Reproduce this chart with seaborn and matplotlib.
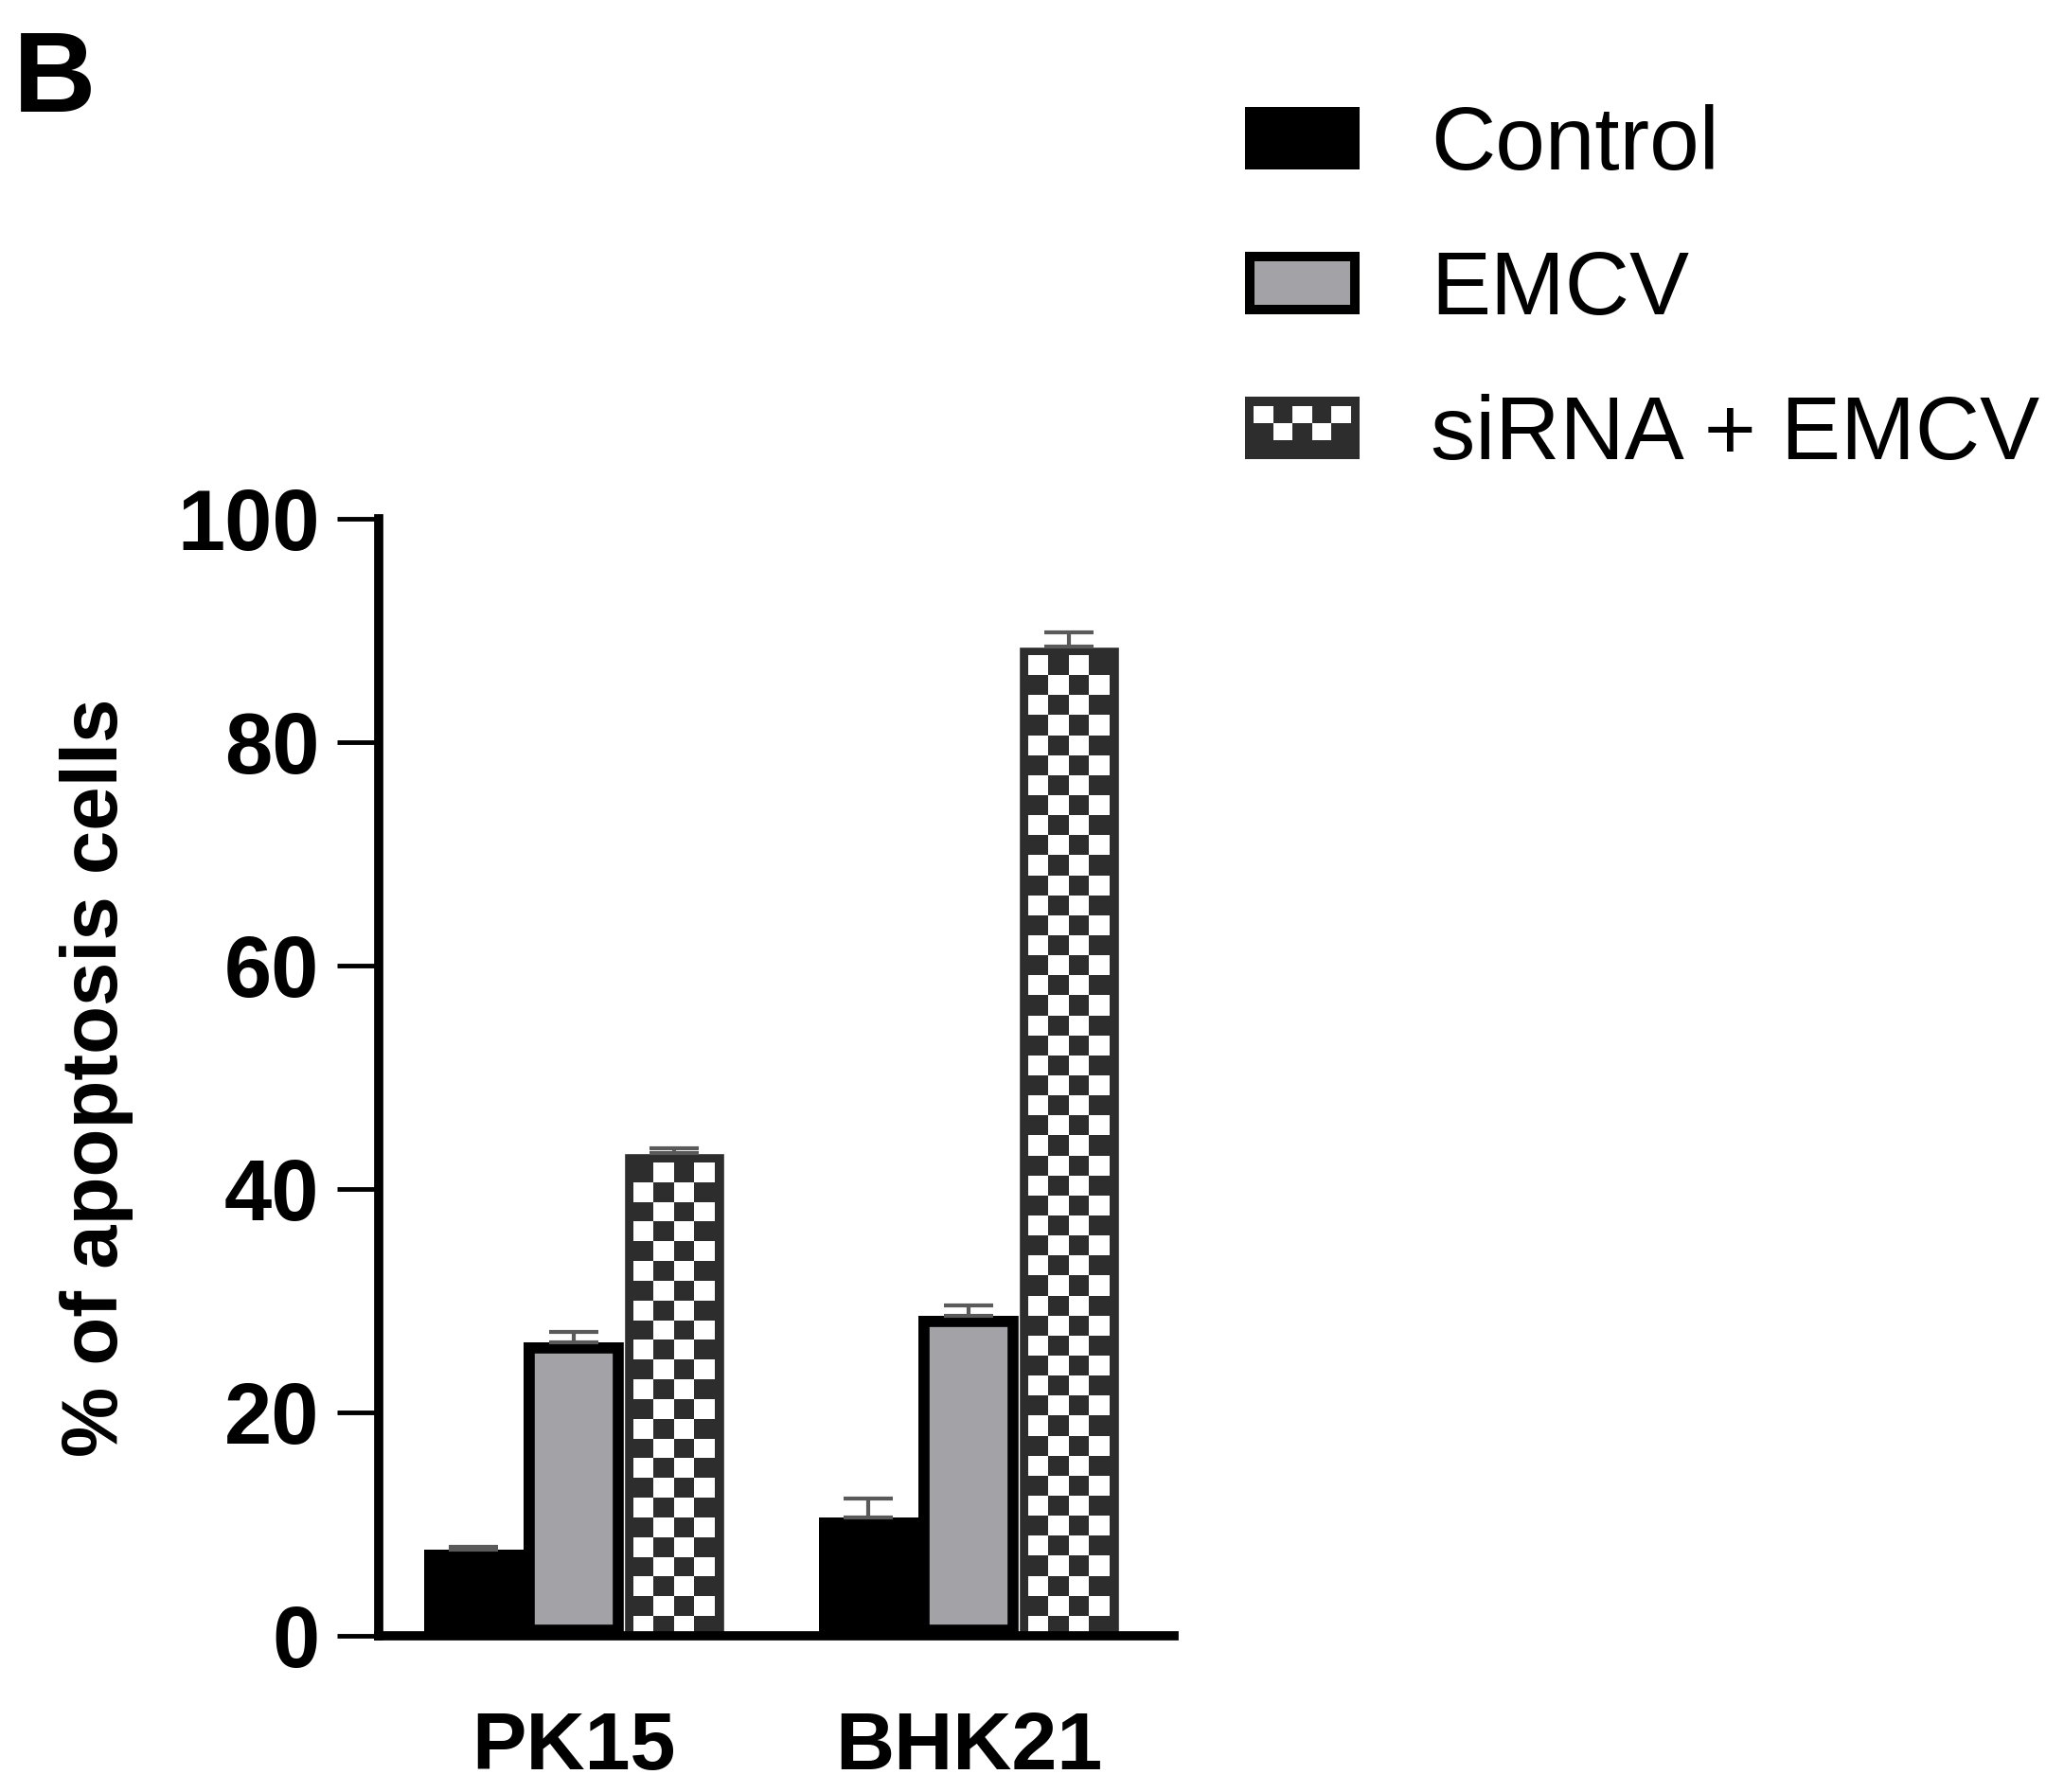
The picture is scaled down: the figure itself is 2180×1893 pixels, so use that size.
#!/usr/bin/env python3
# -*- coding: utf-8 -*-
"""
Apoptosis bar chart (panel B): Control / EMCV / siRNA + EMCV in PK15 and BHK21
"""
import numpy as np
import pandas as pd
import seaborn as sns
import matplotlib.pyplot as plt
from matplotlib.colors import ListedColormap
from matplotlib.patches import Rectangle, Patch
from matplotlib.legend_handler import HandlerBase

# ========== data ==========
cells = ['PK15', 'BHK21']
groups = ['Control', 'EMCV', 'siRNA + EMCV']
control_mean = [7.7, 10.6]
emcv_mean = [26.3, 28.6]
sirna_mean = [43.2, 88.6]
control_err = [0.3, 1.7]
emcv_err = [0.9, 1.0]
sirna_err = [0.4, 1.2]
y_ticks = [0, 20, 40, 60, 80, 100]
y_label = '% of apoptosis cells'
panel = 'B'
# ==========================

DARK = '#2d2d2d'
GREY = '#a3a3a7'


class BoxHandler(HandlerBase):
    """legend box: solid / bordered / checkered"""
    def __init__(self, kind):
        super().__init__()
        self.kind = kind

    def create_artists(self, legend, orig_handle, xdescent, ydescent,
                       width, height, fontsize, trans):
        x0, y0 = -xdescent, -ydescent
        if self.kind == 'solid':
            return [Rectangle((x0, y0), width, height, facecolor='black',
                              edgecolor='none', transform=trans)]
        if self.kind == 'border':
            b = 7.5
            return [Rectangle((x0, y0), width, height, facecolor='black',
                              edgecolor='none', transform=trans),
                    Rectangle((x0 + b, y0 + b), width - 2 * b, height - 2 * b,
                              facecolor=GREY, edgecolor='none', transform=trans)]
        # checkered
        arts = [Rectangle((x0, y0), width, height, facecolor=DARK,
                          edgecolor='none', transform=trans)]
        b = 7.0
        ncol, nrow = 5, 2
        cw = (width - 2 * b) / ncol
        ch = (height - 2 * b) / 2.6
        for r in range(nrow):
            for c in range(ncol):
                if (r + c) % 2 == 0:
                    arts.append(Rectangle((x0 + b + c * cw, y0 + height - b - (r + 1) * ch),
                                          cw, ch, facecolor='white',
                                          edgecolor='none', transform=trans))
        return arts


def main():
    sns.set_style('ticks')
    plt.rcParams['font.family'] = ['Liberation Sans', 'DejaVu Sans']
    plt.rcParams.update({'text.color': 'black', 'axes.labelcolor': 'black',
                         'xtick.color': 'black', 'ytick.color': 'black'})

    rows = []
    for g, means, errs in zip(groups, [control_mean, emcv_mean, sirna_mean],
                              [control_err, emcv_err, sirna_err]):
        for c, m, e in zip(cells, means, errs):
            rows.append({'cell': c, 'group': g, 'value': m, 'err': e})
    df = pd.DataFrame(rows)

    fig = plt.figure(figsize=(21.8, 18.93), dpi=100)
    ax = fig.add_axes([0.1835, 0.0872, 0.3853, 0.6233])

    sns.barplot(data=df, x='cell', y='value', hue='group', order=cells,
                hue_order=groups, palette=['black', GREY, DARK],
                width=0.76, errorbar=None, saturation=1, legend=False, ax=ax)

    # bar styles: edges drawn only inside the bar (clip to itself)
    for bar in ax.containers[0]:
        bar.set_edgecolor('none')
    for bar in ax.containers[1]:
        bar.set_edgecolor('black')
        bar.set_linewidth(17)
        bar.set_clip_path(bar)
    check_cmap = ListedColormap(['white', DARK])
    for bar in ax.containers[2]:
        x0, w, h = bar.get_x(), bar.get_width(), bar.get_height()
        inset_x = w * 0.095
        top = h - 0.85
        nrows = int(round(top / 1.8))
        board = np.add.outer(np.arange(nrows), np.arange(4)) % 2
        im = ax.imshow(board[::-1], extent=(x0 + inset_x, x0 + w - inset_x, 0, top),
                       cmap=check_cmap, aspect='auto', interpolation='nearest',
                       zorder=bar.get_zorder() + 0.1)
        im.set_clip_path(bar)

    # error bars (upper half only, like Prism)
    for cont, g in zip(ax.containers, groups):
        sub = df[df['group'] == g].set_index('cell').loc[cells]
        xs = [b.get_x() + b.get_width() / 2 for b in cont]
        ax.errorbar(xs, sub['value'], yerr=[np.zeros(len(xs)), sub['err']],
                    fmt='none', ecolor='#5a5a5a', elinewidth=3, capsize=19,
                    capthick=3, zorder=5)

    ax.set_xlim(-0.494, 1.52)
    ax.set_ylim(0, 100)
    ax.set_yticks(y_ticks)
    ax.set_yticklabels([str(t) for t in y_ticks], fontsize=65, fontweight='bold')
    ax.set_xticks(range(len(cells)))
    ax.set_xticklabels(cells, fontsize=62, fontweight='bold')
    ax.tick_params(axis='y', length=32, width=3.5, pad=13)
    ax.tick_params(axis='x', length=0, pad=57)
    ax.set_xlabel('')
    ax.set_ylabel(y_label, fontsize=60, fontweight='bold')
    ax.yaxis.set_label_coords(-0.308, 0.5)
    sns.despine(ax=ax)
    for s in ['left', 'bottom']:
        ax.spines[s].set_linewidth(7)
        ax.spines[s].set_color('black')

    handles = [Patch(label=g) for g in groups]
    fig.legend(handles, groups, loc='upper left', bbox_to_anchor=(0.603, 0.942),
               frameon=False, fontsize=68, borderpad=0, borderaxespad=0,
               handlelength=1.29, handleheight=0.70, handletextpad=0.79,
               labelspacing=0.68, labelcolor='black',
               handler_map={handles[0]: BoxHandler('solid'),
                            handles[1]: BoxHandler('border'),
                            handles[2]: BoxHandler('check')})

    fig.text(0.0065, 0.9377, panel, fontsize=87, fontweight='bold', va='baseline')

    fig.savefig('out.png', dpi=100)


if __name__ == '__main__':
    main()
